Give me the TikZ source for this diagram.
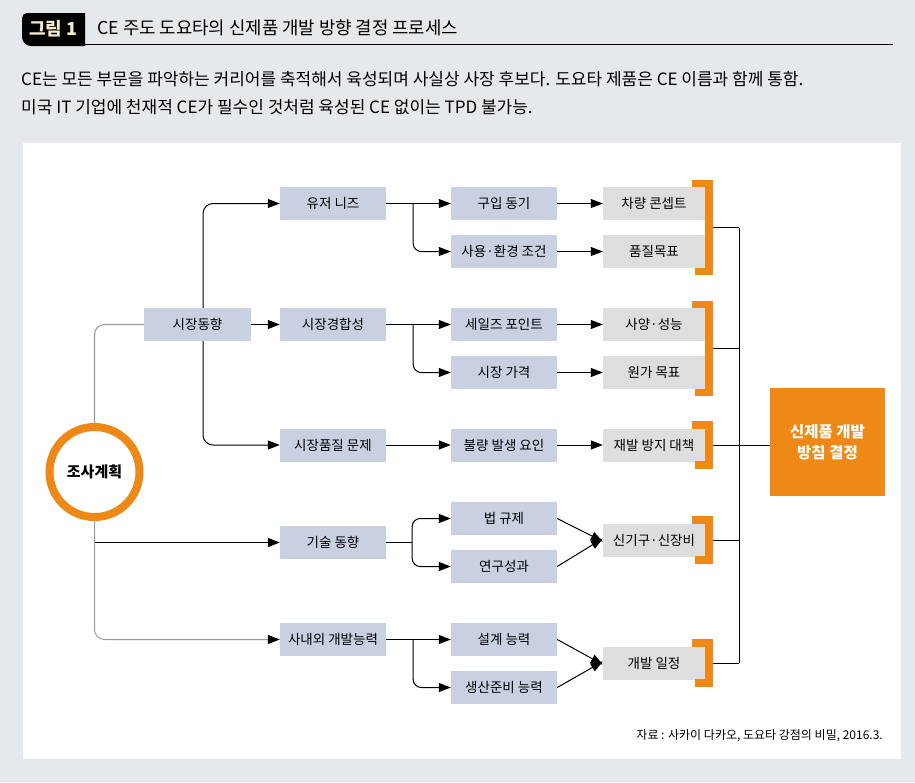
\documentclass[tikz,border=0pt]{standalone}
\usepackage{fontspec}
\setmainfont{Noto Sans CJK KR}
\usepackage{xcolor}
\usetikzlibrary{positioning}
\usetikzlibrary{arrows.meta}

\definecolor{pagegray}{HTML}{E5E9EC}
\definecolor{factorblue}{HTML}{C9D0E2}
\definecolor{goalgray}{HTML}{DEDEDE}
\definecolor{toyorange}{HTML}{EE8917}
\definecolor{trunkgray}{HTML}{9A9A9A}
\definecolor{tabcream}{HTML}{F6EBCB}

% orange bracket to the right of one or two goal boxes
\newcommand{\goalbracket}[3]{%
  \draw[toyorange, line width=7.5pt]
    ([shift={(-13,-3.5)}]#1.north east) -- ([shift={(4,-3.5)}]#1.north east)
    -- coordinate (#3) ([shift={(4,3.5)}]#2.south east)
    -- ([shift={(-10,3.5)}]#2.south east);}

\begin{document}
\begin{tikzpicture}
           [x=1pt, y=-1pt,
            factor/.style = {fill=factorblue, minimum width=106pt, minimum height=33pt,
                             inner sep=0pt, font=\fontsize{13.5}{15}\selectfont},
            goal/.style = {fill=goalgray, minimum width=102pt, minimum height=33pt,
                           inner sep=0pt, font=\fontsize{13.5}{15}\selectfont},
            link/.style = {line width=1pt, -{Triangle[length=12pt,width=9pt,color=black]}},
            trunk/.style = {line width=1.1pt, draw=trunkgray}]
            \useasboundingbox[fill=pagegray] (0,0) rectangle (915,782);
            \fill[white] (23,143) rectangle (901,759);

            % header
            \fill (85,13) [rounded corners=5pt] -- (22,13) [rounded corners=9pt] -- (22,46) [sharp corners] -- (85,46) -- cycle;
            \node[text=tabcream, font=\fontsize{18}{20}\selectfont\bfseries] (tab) at (53.5,29) {그림 1};
            \draw[line width=1.2pt] (85,44.5) -- (893,44.5);
            \node[anchor=west, inner sep=0pt, font=\fontsize{17.8}{20}\selectfont] (title) at (97,28) {CE 주도 도요타의 신제품 개발 방향 결정 프로세스};
            \node[anchor=west, inner sep=0pt, font=\fontsize{17}{20}\selectfont] (lead1) at (21,79) {CE는 모든 부문을 파악하는 커리어를 축적해서 육성되며 사실상 사장 후보다. 도요타 제품은 CE 이름과 함께 통함.};
            \node[anchor=west, inner sep=0pt, font=\fontsize{17}{20}\selectfont] (lead2) at (21,107) {미국 IT 기업에 천재적 CE가 필수인 것처럼 육성된 CE 없이는 TPD 불가능.};

            % start
            \node[circle, draw=toyorange, line width=8pt, minimum size=90pt, inner sep=0pt,
                  font=\fontsize{15}{17}\selectfont\bfseries] (plan) at (94.5,472) {조사계획};
            \node[factor, minimum width=107pt] (trend) at (197.5,324.5) {시장동향};

            % second column
            \node[factor] (needs) at (333,203.5) {유저 니즈};
            \node[factor] (compete) at (333,324.5) {시장경합성};
            \node[factor] (quality) at (333,445) {시장품질 문제};
            \node[factor] (tech) at (333,542.5) {기술 동향};
            \node[factor] (ability) at (333,639.5) {사내외 개발능력};

            % third column
            \node[factor] (motive) at (504,203.5) {구입 동기};
            \node[factor] (usage) at (504,251.5) {사용·환경 조건};
            \node[factor] (sales) at (504,324.5) {세일즈 포인트};
            \node[factor] (price) at (504,372.5) {시장 가격};
            \node[factor] (defect) at (504,445) {불량 발생 요인};
            \node[factor] (law) at (504,518.5) {법 규제};
            \node[factor] (research) at (504,566.5) {연구성과};
            \node[factor] (design) at (504,639.5) {설계 능력};
            \node[factor] (prod) at (504,687.5) {생산준비 능력};

            % fourth column
            \node[goal] (concept) at (654,203.5) {차량 콘셉트};
            \node[goal] (qgoal) at (654,251.5) {품질목표};
            \node[goal] (spec) at (654,324.5) {사양·성능};
            \node[goal] (cost) at (654,372.5) {원가 목표};
            \node[goal] (prevent) at (654,445) {재발 방지 대책};
            \node[goal] (mech) at (654,540) {신기구·신장비};
            \node[goal] (sched) at (654,663) {개발 일정};

            \node[fill=toyorange, minimum width=115pt, minimum height=108pt, inner sep=0pt,
                  text=white, align=center, font=\fontsize{15.5}{21}\selectfont\bfseries] (result) at (827.5,442) {신제품 개발\\방침 결정};

            \node[anchor=east, inner sep=0pt, font=\fontsize{12}{14}\selectfont] (source) at (883,736) {자료 : 사카이 다카오, 도요타 강점의 비밀, 2016.3.};

            % from the plan
            \draw[trunk, rounded corners=10pt] (plan.north) |- (trend.west);
            \draw[trunk, link, draw=trunkgray, rounded corners=10pt] (plan.south) |- (ability.west);
            \draw[link] (plan.south |- tech.west) -- (tech.west);

            \draw[link, rounded corners=10pt] ([xshift=5.5pt]trend.north) |- (needs.west);
            \draw[link] (trend) -- (compete);
            \draw[link, rounded corners=10pt] ([xshift=5.5pt]trend.south) |- (quality.west);

            % branches
            \draw[link] (needs) -- (motive);
            \draw[link, rounded corners=8pt] ([xshift=27pt]needs.east) |- (usage.west);
            \draw[link] (compete) -- (sales);
            \draw[link, rounded corners=8pt] ([xshift=27pt]compete.east) |- (price.west);
            \draw[link] (quality) -- (defect);
            \draw[line width=1pt] (tech.east) -- ([xshift=26pt]tech.east);
            \draw[link, rounded corners=8pt] ([xshift=26pt]tech.east) |- (law.west);
            \draw[link, rounded corners=8pt] ([xshift=26pt]tech.east) |- (research.west);
            \draw[link] (ability) -- (design);
            \draw[link, rounded corners=8pt] ([xshift=27pt]ability.east) |- (prod.west);

            \draw[link] (motive) -- (concept);
            \draw[link] (usage) -- (qgoal);
            \draw[link] (sales) -- (spec);
            \draw[link] (price) -- (cost);
            \draw[link] (defect) -- (prevent);
            \draw[link] (law.east) -- ([yshift=-1.5pt]mech.west);
            \draw[link] (research.east) -- ([yshift=1.5pt]mech.west);
            \draw[link] (design.east) -- ([yshift=-1.5pt]sched.west);
            \draw[link] (prod.east) -- ([yshift=1.5pt]sched.west);

            % brackets and collector
            \goalbracket{concept}{qgoal}{b1}
            \goalbracket{spec}{cost}{b2}
            \goalbracket{prevent}{prevent}{b3}
            \goalbracket{mech}{mech}{b4}
            \goalbracket{sched}{sched}{b5}
            \coordinate (bus) at (739,0);
            \draw[line width=1pt] ([xshift=4pt]b1) -- (b1 -| bus);
            \draw[line width=1pt] ([xshift=4pt]b2) -- (b2 -| bus);
            \draw[line width=1pt] ([xshift=4pt]b3) -- (b3 -| result.west);
            \draw[line width=1pt] ([xshift=4pt]b4) -- (b4 -| bus);
            \draw[line width=1pt] ([xshift=4pt]b5) -- (b5 -| bus);
            \draw[line width=1pt] (b1 -| bus) -- (b5 -| bus);
        \end{tikzpicture}
\end{document}
